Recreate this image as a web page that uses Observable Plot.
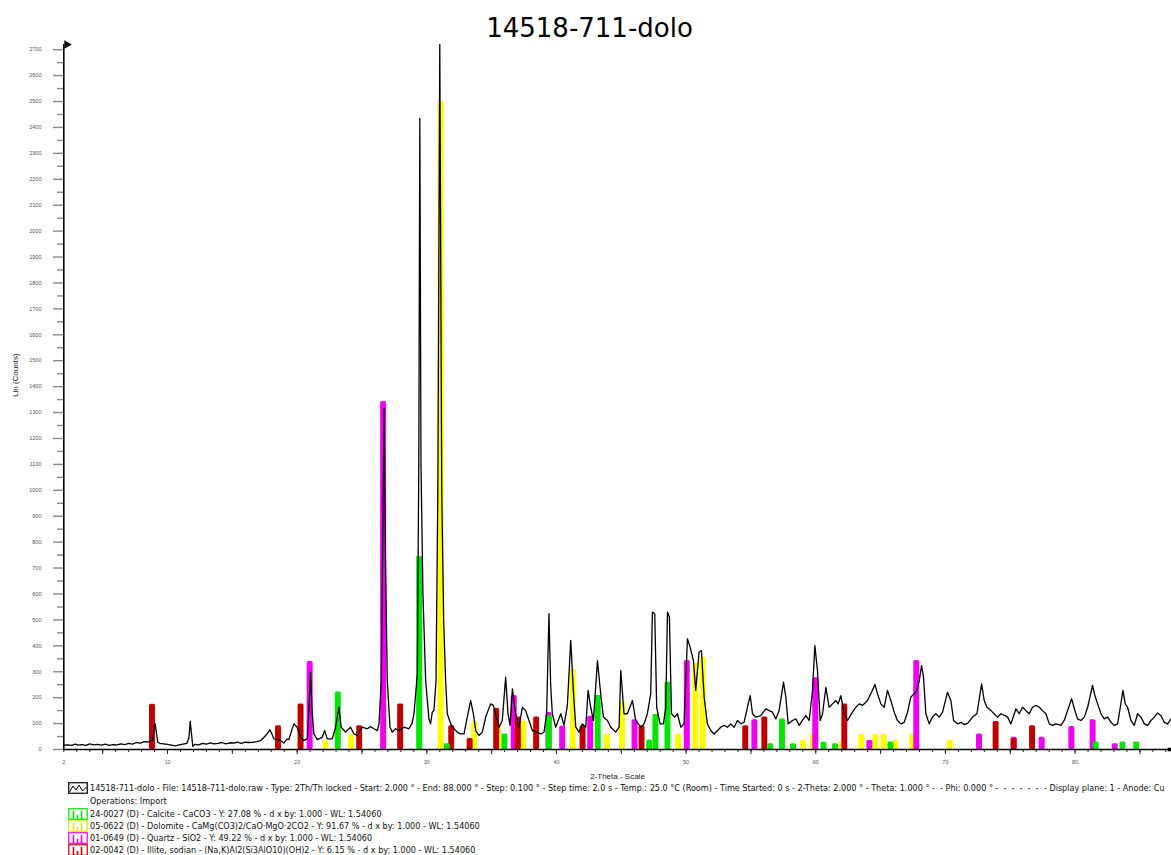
<!DOCTYPE html>
<html>
<head>
<meta charset="utf-8">
<script src="https://cdn.jsdelivr.net/npm/d3@7"></script>
<script src="https://cdn.jsdelivr.net/npm/@observablehq/plot@0.6"></script>
<style>
  html, body { margin: 0; padding: 0; background: #fff; width: 1171px; height: 855px; overflow: hidden; }
  #title { position: absolute; left: 4px; top: 15px; width: 1171px; text-align: center;
           font: 26px "DejaVu Sans", Verdana, sans-serif; line-height: 1; color: #000; }
  #chart { position: absolute; left: 0; top: 40px; }
  .row { position: absolute; left: 68px; height: 12px; display: flex; align-items: center;
         font: 8.1px "DejaVu Sans", Verdana, sans-serif; color: #111; white-space: pre; }
  .row svg { margin-right: 2px; flex: none; }
</style>
</head>
<body>
<div id="title">14518-711-dolo</div>
<div id="chart"></div>
<div id="legend"></div>
<script>
// Diffractogram: 2-theta (degrees) and intensity (counts)
const scan = [
  [2.0,17],[2.3,18],[2.6,16],[2.9,21],[3.1,17],[3.4,19],[3.7,16],[4.0,22],[4.3,18],[4.6,20],
  [4.9,17],[5.2,21],[5.5,16],[5.8,19],[6.1,18],[6.4,22],[6.7,19],[7.0,24],[7.3,21],[7.6,27],
  [7.9,25],[8.2,30],[8.5,29],[8.7,33],[8.85,36],[8.95,70],[9.05,99],[9.15,60],[9.25,28],[9.4,24],
  [9.7,22],[10.0,20],[10.3,17],[10.6,14],[10.9,18],[11.2,21],[11.5,24],[11.65,45],[11.75,109],[11.85,60],
  [11.95,12],[12.1,20],[12.4,18],[12.7,24],[13.0,21],[13.3,26],[13.6,22],[13.9,24],[14.2,27],[14.5,22],
  [14.8,26],[15.1,25],[15.4,28],[15.7,24],[16.0,28],[16.3,27],[16.6,28],[16.9,30],[17.2,35],[17.5,50],
  [17.7,62],[17.9,76],[18.05,60],[18.2,41],[18.45,38],[18.72,35],[18.98,25],[19.2,40],[19.36,38],[19.55,70],
  [19.75,99],[20.0,86],[20.26,47],[20.52,35],[20.78,41],[20.9,150],[21.03,298],[21.15,150],[21.29,60],[21.55,38],
  [21.93,47],[22.12,73],[22.32,41],[22.71,41],[22.96,86],[23.22,163],[23.4,86],[23.73,67],[24.12,86],[24.38,60],
  [24.64,54],[25.02,86],[25.41,80],[25.66,89],[25.92,80],[26.18,73],[26.31,99],[26.49,266],[26.58,700],[26.7,1316],
  [26.82,700],[26.95,266],[27.16,86],[27.34,67],[27.59,80],[27.85,73],[28.24,86],[28.62,80],[28.85,100],[29.01,138],
  [29.27,292],[29.38,1100],[29.46,2435],[29.55,1100],[29.7,600],[29.91,266],[30.16,118],[30.29,99],[30.42,144],[30.55,150],
  [30.71,266],[30.85,1000],[31.0,2720],[31.15,1000],[31.3,500],[31.45,266],[31.58,138],[31.84,99],[32.09,80],[32.35,67],
  [32.61,60],[32.87,60],[33.12,125],[33.38,189],[33.59,138],[33.77,73],[34.02,54],[34.28,67],[34.54,125],[34.92,176],
  [35.13,170],[35.31,138],[35.57,86],[35.82,112],[36.08,279],[36.26,138],[36.42,93],[36.6,234],[36.85,138],[37.11,86],
  [37.37,163],[37.62,150],[37.88,112],[38.14,73],[38.47,67],[38.78,60],[39.04,67],[39.24,138],[39.42,524],[39.55,250],
  [39.68,138],[39.94,86],[40.33,138],[40.58,93],[40.84,170],[41.1,421],[41.3,228],[41.49,86],[41.74,67],[42.0,99],
  [42.26,86],[42.44,228],[42.64,163],[42.85,112],[43.16,343],[43.41,215],[43.62,125],[43.93,112],[44.19,86],[44.57,67],
  [44.83,86],[44.96,305],[45.21,138],[45.47,138],[45.86,189],[46.11,112],[46.5,86],[46.76,99],[47.01,138],[47.27,215],
  [47.4,530],[47.58,524],[47.73,163],[47.99,99],[48.25,99],[48.43,163],[48.56,530],[48.71,511],[48.87,138],[49.12,125],
  [49.33,138],[49.59,86],[49.84,99],[50.1,427],[50.31,395],[50.56,343],[50.74,228],[51.0,376],[51.18,382],[51.39,202],
  [51.64,99],[51.9,73],[52.16,60],[52.42,73],[52.67,86],[52.93,93],[53.19,86],[53.44,99],[53.7,86],[53.96,112],
  [54.22,99],[54.47,105],[54.73,163],[54.94,208],[55.12,138],[55.37,125],[55.76,131],[56.15,157],[56.4,150],[56.66,144],
  [56.92,118],[57.17,150],[57.51,260],[57.69,202],[57.87,99],[58.2,112],[58.46,118],[58.72,93],[58.97,112],[59.23,131],
  [59.49,112],[59.75,228],[59.93,401],[60.13,305],[60.34,112],[60.52,138],[60.78,240],[61.03,163],[61.29,176],[61.55,189],
  [61.73,176],[61.93,208],[62.19,138],[62.45,112],[62.83,144],[63.09,163],[63.35,176],[63.6,170],[63.99,189],[64.3,221],
  [64.56,251],[64.76,215],[65.02,176],[65.28,163],[65.53,228],[65.79,189],[66.05,144],[66.3,112],[66.56,99],[66.82,105],
  [67.08,144],[67.33,202],[67.59,215],[67.8,228],[67.98,266],[68.16,324],[68.31,279],[68.49,138],[68.75,99],[69.0,125],
  [69.26,138],[69.52,125],[69.78,144],[70.16,221],[70.42,189],[70.63,112],[70.93,99],[71.19,105],[71.45,96],[71.71,101],
  [72.09,125],[72.43,138],[72.79,253],[72.99,189],[73.2,163],[73.51,150],[73.76,138],[74.02,125],[74.28,138],[74.59,131],
  [74.79,125],[75.05,99],[75.44,157],[75.69,138],[75.95,163],[76.21,150],[76.46,138],[76.72,163],[76.98,170],[77.24,163],
  [77.49,150],[77.75,138],[78.01,99],[78.26,93],[78.52,99],[78.91,93],[79.16,112],[79.42,150],[79.73,196],[79.99,150],
  [80.19,118],[80.45,112],[80.71,125],[80.97,163],[81.17,208],[81.35,247],[81.53,208],[81.74,176],[82.0,138],[82.25,118],
  [82.51,125],[82.77,105],[83.02,93],[83.28,99],[83.49,163],[83.69,228],[83.87,176],[84.05,163],[84.31,112],[84.57,93],
  [84.82,138],[85.08,125],[85.34,99],[85.6,93],[85.85,112],[86.11,125],[86.37,141],[86.62,131],[86.88,105],[87.14,99],
  [87.4,118],[87.7,125],[88.0,110]
];

// Reference patterns (stick positions in 2-theta, heights in counts)
const calciteTheta  = [23.17, 29.45, 31.58, 36.02, 39.45, 43.22, 47.19, 47.67, 48.60, 56.53, 57.43, 58.28, 60.64, 61.52, 65.80, 81.62, 83.69, 84.75];
const calciteCounts = [222, 745, 22, 60, 130, 208, 37, 135, 259, 22, 118, 22, 28, 22, 29, 29, 29, 29];

const dolomiteTheta  = [22.22, 24.20, 31.10, 33.69, 35.55, 37.48, 41.29, 43.93, 45.09, 49.43, 50.74, 51.32, 59.05, 59.81, 62.06, 63.55, 64.63, 65.27, 66.17, 67.48, 70.37];
const dolomiteCounts = [34, 57, 2500, 106, 95, 108, 309, 59, 183, 59, 333, 356, 35, 58, 33, 58, 58, 58, 35, 58, 35];

const quartzTheta  = [21.00, 26.67, 36.74, 39.42, 40.48, 42.64, 46.06, 50.09, 55.30, 60.00, 64.17, 67.79, 72.63, 75.30, 77.46, 79.75, 81.39, 83.10];
const quartzCounts = [340, 1343, 208, 143, 90, 128, 115, 343, 115, 277, 35, 343, 60, 47, 47, 89, 115, 22];

const illiteTheta  = [8.84, 18.56, 20.30, 24.82, 27.98, 31.92, 33.34, 35.39, 37.06, 38.47, 42.05, 46.60, 54.60, 56.07, 62.24, 73.91, 75.30, 76.72];
const illiteCounts = [175, 92, 176, 92, 176, 92, 42, 158, 125, 125, 92, 92, 92, 125, 176, 108, 42, 92];

const yMax = 2720;
const yTicks = d3.range(0, 2701, 100);
const xLabelTicks = [2, 10, 20, 30, 40, 50, 60, 70, 80];

// Drawing order: dolomite, quartz, illite, calcite
const phases = [
  {color: "#ffff00", theta: dolomiteTheta, counts: dolomiteCounts},
  {color: "#f000f0", theta: quartzTheta, counts: quartzCounts},
  {color: "#c00000", theta: illiteTheta, counts: illiteCounts},
  {color: "#00e600", theta: calciteTheta, counts: calciteCounts}
];
const half = 0.23; // half stick width in degrees

const chart = Plot.plot({
  width: 1171,
  height: 745,
  marginTop: 4,
  marginBottom: 36,
  marginLeft: 63,
  marginRight: 0,
  style: {fontFamily: "'Liberation Sans', Arial, sans-serif", fontSize: "5.5px", background: "#fff", overflow: "hidden"},
  x: {domain: [2, 88], range: [63.3, 1178.3], label: null},
  y: {domain: [0, yMax], label: null},
  marks: [
    ...phases.map(p => Plot.rectY(p.theta.map((t, i) => ({t, c: p.counts[i]})), {
      x1: d => d.t - half, x2: d => d.t + half, y1: 0, y2: "c", fill: p.color, rx: 1.5
    })),
    Plot.line(scan, {x: d => d[0], y: d => d[1], stroke: "#000", strokeWidth: 1.3, curve: "linear"}),
    // y axis: minor and major ticks
    Plot.axisY({ticks: d3.range(50, 2701, 100), tickSize: 6, stroke: "#8a8a8a", strokeWidth: 1.4, fill: "none", label: null}),
    Plot.axisY({ticks: yTicks, tickSize: 10, tickPadding: 12, stroke: "#8a8a8a", strokeWidth: 1.4, fill: "#555", tickFormat: d => String(d), label: null}),
    // x axis: unit ticks, fives, and labels
    Plot.axisX({ticks: d3.range(2, 89, 1), tickSize: 3, stroke: "#222", fill: "none", label: null}),
    Plot.axisX({ticks: d3.range(5, 89, 5), tickSize: 5, stroke: "#222", fill: "none", label: null}),
    Plot.axisX({ticks: xLabelTicks, tickSize: 0, tickPadding: 11, fill: "#555", tickFormat: d => String(d), label: null}),
    Plot.ruleY([0], {stroke: "#000", strokeWidth: 1.6}),
    Plot.ruleX([2], {y1: 0, y2: yMax, stroke: "#000", strokeWidth: 1.6}),
    Plot.dot([yMax], {x: () => 2, y: d => d, symbol: "triangle", rotate: 90, r: 3.2, fill: "#000", stroke: "none", dx: 3}),
    Plot.dot([0], {frameAnchor: "bottom-right", symbol: "square", r: 2, fill: "#000", stroke: "none", dx: -2}),
    Plot.text(["2-Theta - Scale"], {frameAnchor: "bottom", lineAnchor: "middle", dy: 27, fontSize: 8, fill: "#222"}),
    Plot.text(["Lin (Counts)"], {frameAnchor: "left", rotate: -90, dx: -48, fontSize: 8, fill: "#222"})
  ]
});
document.getElementById("chart").appendChild(chart);

// Legend rows under the chart
const legendRows = [
  {icon: "scan", y: 788, text: "14518-711-dolo - File: 14518-711-dolo.raw - Type: 2Th/Th locked - Start: 2.000 \u00b0 - End: 88.000 \u00b0 - Step: 0.100 \u00b0 - Step time: 2.0 s - Temp.: 25.0 \u00b0C (Room) - Time Started: 0 s - 2-Theta: 2.000 \u00b0 - Theta: 1.000 \u00b0 -  - Phi: 0.000 \u00b0 -  -  -  -  -  -  - Display plane: 1 - Anode: Cu"},
  {icon: null, y: 801, text: "Operations: Import"},
  {icon: "#00e600", y: 814, text: "24-0027 (D) - Calcite - CaCO3 - Y: 27.08 % - d x by: 1.000 - WL: 1.54060"},
  {icon: "#e6e600", y: 826, text: "05-0622 (D) - Dolomite - CaMg(CO3)2/CaO\u00b7MgO\u00b72CO2 - Y: 91.67 % - d x by: 1.000 - WL: 1.54060"},
  {icon: "#f000f0", y: 838, text: "01-0649 (D) - Quartz - SiO2 - Y: 49.22 % - d x by: 1.000 - WL: 1.54060"},
  {icon: "#c00000", y: 850, text: "02-0042 (D) - Illite, sodian - (Na,K)Al2(Si3AlO10)(OH)2 - Y: 6.15 % - d x by: 1.000 - WL: 1.54060"}
];
const legend = document.getElementById("legend");
for (const r of legendRows) {
  const row = document.createElement("div");
  row.className = "row";
  row.style.top = (r.y - 6) + "px";
  let icon;
  if (r.icon === "scan") {
    icon = `<svg width="20" height="12"><rect x="0.75" y="0.75" width="18.5" height="10.5" fill="none" stroke="#000" stroke-width="1.2"/><polyline points="1.5,10 5,4 8,8 11,3 14.5,9 18.5,5" fill="none" stroke="#000" stroke-width="1"/></svg>`;
  } else if (r.icon) {
    const c = r.icon;
    icon = `<svg width="20" height="12"><rect x="0.75" y="0.75" width="18.5" height="10.5" fill="none" stroke="${c}" stroke-width="1.2"/><line x1="5.5" y1="11" x2="5.5" y2="3" stroke="${c}" stroke-width="1.6"/><line x1="9.5" y1="11" x2="9.5" y2="7" stroke="${c}" stroke-width="1.6"/><line x1="13.5" y1="11" x2="13.5" y2="3" stroke="${c}" stroke-width="1.6"/></svg>`;
  } else {
    icon = `<svg width="20" height="12"></svg>`;
  }
  row.innerHTML = icon + `<span>${r.text}</span>`;
  legend.appendChild(row);
}
</script>
</body>
</html>
